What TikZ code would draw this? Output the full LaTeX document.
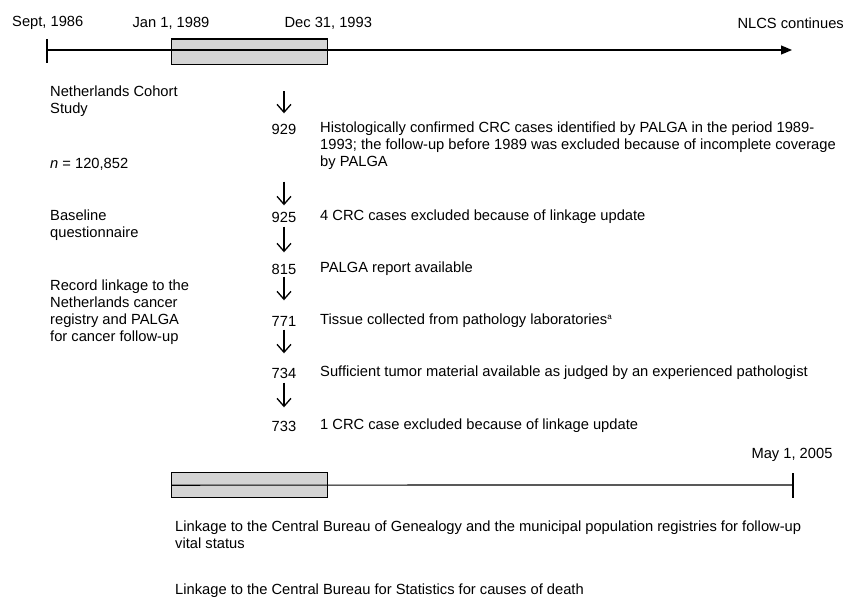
\documentclass[tikz,border=0pt]{standalone}
\usepackage{fontspec}
\setmainfont{Liberation Sans}
\usetikzlibrary{arrows.meta}
\begin{document}
\begin{tikzpicture}[x=1pt,y=-1pt,
  every node/.style={inner sep=0pt, font=\fontsize{14.7}{17}\selectfont},
  lbl/.style={anchor=west, align=left},
  num/.style={anchor=center, text height=10.5pt, text depth=0pt},
  tl/.style={line width=1.2pt},
  period/.style={draw=black, line width=1.3pt, fill=black!17},
  flowarrow/.style={line width=1.3pt, -{Straight Barb[length=8pt,width=14pt,line width=1.3pt]}}
]
\useasboundingbox (0,0) rectangle (845,602);

% ---- top timeline ----
\node[period, minimum width=156pt, minimum height=25pt, anchor=north west] (box1) at (171,38.5) {};
\coordinate (t1start) at (47,50);
\coordinate (t1end) at (792,50);
\draw[tl, -{Triangle[length=11pt,width=9pt]}] (t1start) -- (t1end);
\draw[tl] (47,39) -- (47,63);
\node[anchor=west] (sept) at (12,23) {Sept, 1986};
\node (jan) at (box1.north west |- 0,23) {Jan 1, 1989};
\node (dec) at (box1.north east |- 0,23) {Dec 31, 1993};
\node[anchor=east] (nlcs) at (844,23) {NLCS continues};

% ---- left column ----
\node[lbl] (nlcsstudy) at (50,101.5) {Netherlands Cohort\\Study};
\node[lbl] (ncount) at (50,164) {\textit{n} = 120,852};
\node[lbl] (baseline) at (50,225.5) {Baseline\\questionnaire};
\node[lbl] (record) at (50,312.5) {Record linkage to the\\Netherlands cancer\\registry and PALGA\\for cancer follow-up};

% ---- numbers ----
\coordinate (a1top) at (284,91);
\node[num] (n929) at (284,129) {929};
\node[num] (n925) at (284,217) {925};
\node[num] (n815) at (284,269) {815};
\node[num] (n771) at (284,321) {771};
\node[num] (n734) at (284,373) {734};
\node[num] (n733) at (284,426) {733};

% ---- descriptions ----
\node[lbl] (d929) at (320,146) {Histologically confirmed CRC cases identified by PALGA in the period 1989-\\1993; the follow-up before 1989 was excluded because of incomplete coverage\\by PALGA};
\node[lbl] (d925) at (320,217) {4 CRC cases excluded because of linkage update};
\node[lbl] (d815) at (320,269) {PALGA report available};
\node[lbl] (d771) at (320,321) {Tissue collected from pathology laboratories\textsuperscript{\fontsize{8}{8}\selectfont a}};
\node[lbl] (d734) at (320,373) {Sufficient tumor material available as judged by an experienced pathologist};
\node[lbl] (d733) at (320,426) {1 CRC case excluded because of linkage update};

% ---- flow arrows ----
\draw[flowarrow, shorten >=10.25pt] (a1top) -- (n929.north);
\draw[flowarrow, shorten <=47.25pt, shorten >=6.25pt] (n929.south) -- (n925.north);
\draw[flowarrow, shorten <=4.25pt, shorten >=11.25pt] (n925.south) -- (n815.north);
\draw[flowarrow, shorten <=2.25pt, shorten >=15.25pt] (n815.south) -- (n771.north);
\draw[flowarrow, shorten <=3.25pt, shorten >=14.25pt] (n771.south) -- (n734.north);
\draw[flowarrow, shorten <=4.25pt, shorten >=13.25pt] (n734.south) -- (n733.north);

% ---- bottom timeline ----
\node[period, minimum width=156pt, minimum height=25pt, anchor=north west] (box2) at (171,472) {};
\coordinate (t2end) at (793,485);
\draw[tl] (box2.west) -- (t2end);
\draw[tl] (793,473) -- (793,498);
\node (may) at (792,455) {May 1, 2005};

\node[lbl] (cbg) at (175,534.5) {Linkage to the Central Bureau of Genealogy and the municipal population registries for follow-up\\vital status};
\node[lbl] (cbs) at (175,591) {Linkage to the Central Bureau for Statistics for causes of death};
\end{tikzpicture}
\end{document}
